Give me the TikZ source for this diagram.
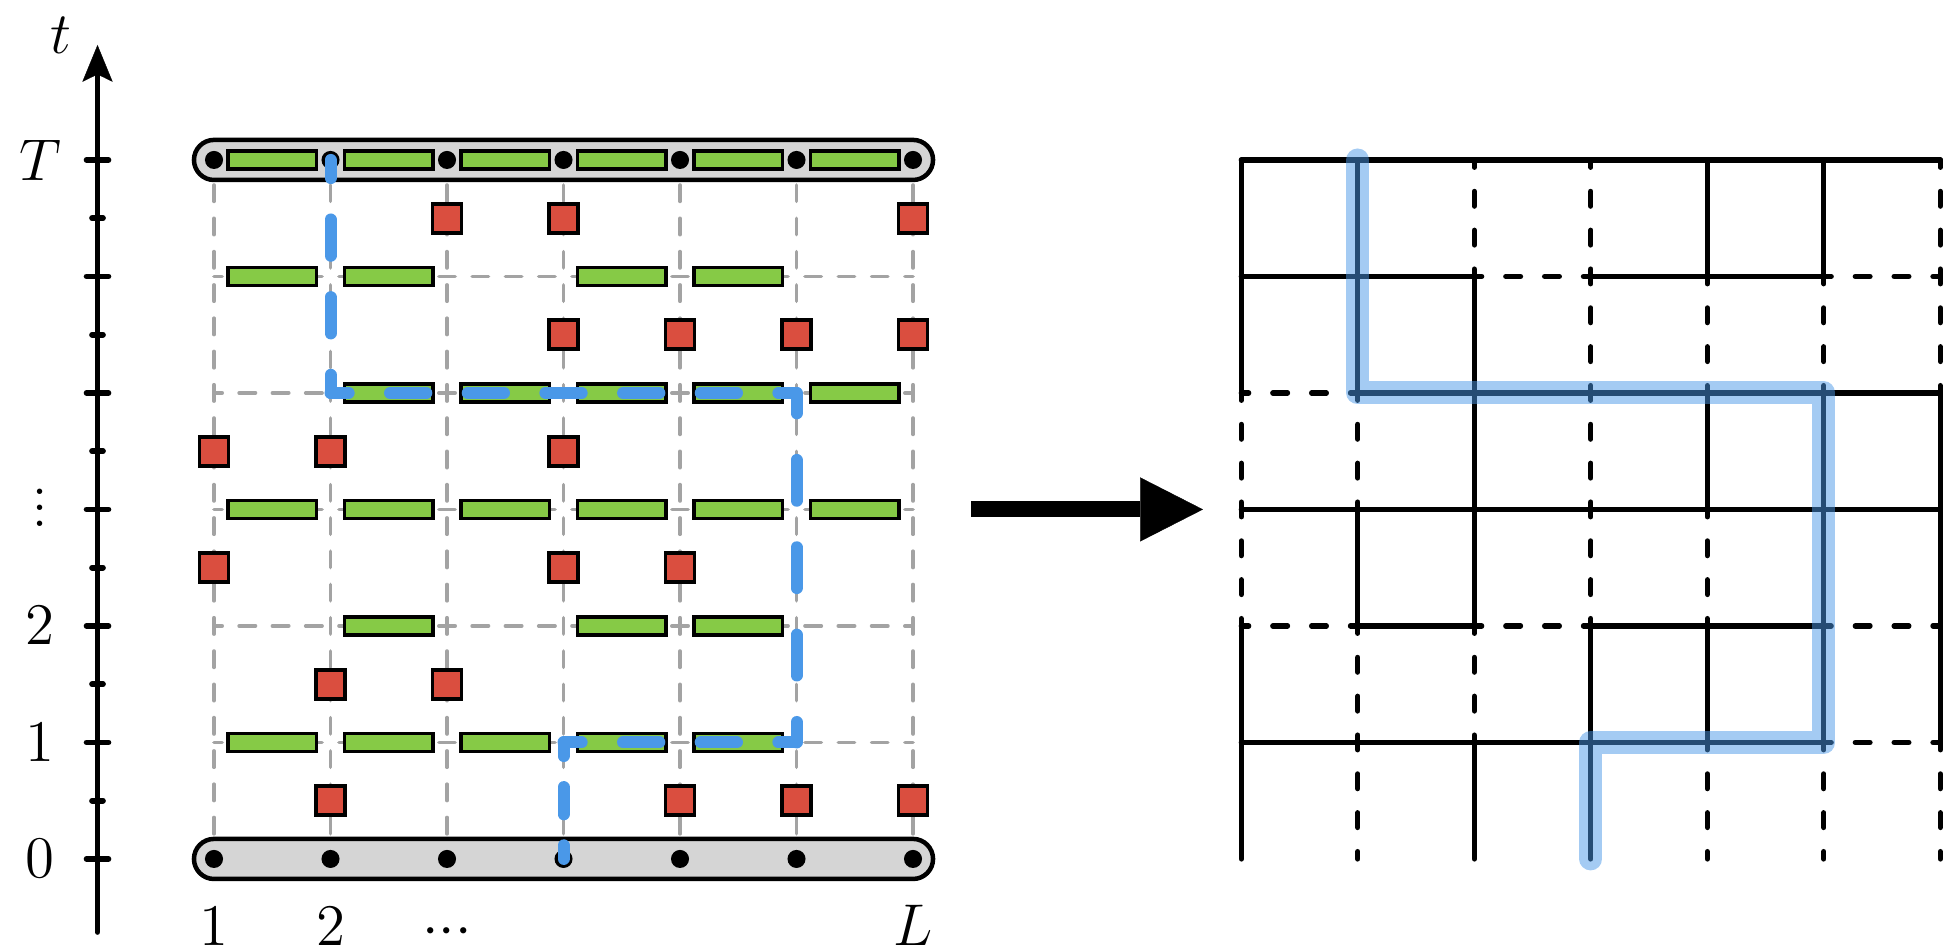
\documentclass[tikz,border=0pt]{standalone}
\usetikzlibrary{arrows.meta}
\definecolor{pillgray}{HTML}{D5D5D5}
\definecolor{gridgray}{HTML}{A3A3A3}
\definecolor{bondgreen}{HTML}{86CA46}
\definecolor{cutred}{HTML}{DA4E3F}
\definecolor{pathblue}{HTML}{4A98E8}
\begin{document}
\begin{tikzpicture}[x=1cm,y=1cm,
  every node/.style={font=\fontsize{13.6}{16}\selectfont},
  axlabel/.style={inner sep=0pt, anchor=base},
  gridline/.style={draw=gridgray, line width=0.9pt, line cap=round,
    dash pattern=on 0.14cm off 0.145714cm, dash phase=0.07cm},
  pill/.style={draw=black, fill=pillgray, line width=1.1pt, rounded corners=0.172cm},
  site/.style={circle, fill=black, draw=none, inner sep=0pt, minimum size=0.155cm},
  bond/.style={rectangle, draw=black, fill=bondgreen, line width=0.9pt, inner sep=0pt,
    minimum width=0.76cm, minimum height=0.155cm},
  cut/.style={rectangle, draw=black, fill=cutred, line width=0.95pt, inner sep=0pt,
    minimum size=0.249cm},
  walk/.style={draw=pathblue, line width=2.93pt, line cap=round},
  lat/.style={draw=black, line width=1.3pt, line cap=round},
  latdash/.style={lat, dash pattern=on 0.126cm off 0.2073cm, dash phase=0.063cm},
  hilite/.style={draw=pathblue, draw opacity=0.5, line width=5.6pt, line cap=round, line join=round},
  axisline/.style={draw=black, line width=1.4pt, line cap=round},
]
\useasboundingbox (-1.837,-0.790) rectangle (14.884,7.373);

% lattice points: left circuit (g) and right bond lattice (q)
\foreach \c in {1,...,7} \foreach \r in {0,...,6} {
  \coordinate (g-\c-\r) at (\c-1,\r);
  \coordinate (q-\c-\r) at (\c+7.818,\r);
}

% ---------- time axis ----------
\coordinate (ax-b) at (-1,-0.627);
\coordinate (ax-t) at (-1,6.987);
\draw[axisline, -{Stealth[length=9pt,width=7.4pt,inset=1.8pt,line width=0.1pt]}] (ax-b) -- (ax-t);
\foreach \r in {0,...,6} \draw[axisline] (-1.094,\r) -- (-0.906,\r);
\foreach \r in {0,...,5} \draw[axisline] (-1.047,\r+0.5) -- (-0.953,\r+0.5);
\node (lab-t) at (-1.313,7.073) {$t$};
\node (lab-T) at (-1.494,6) {$T$};
\node[axlabel] (lab-vd) at (-1.494,2.85) {$\vdots$};
\node (lab-2) at (-1.494,2) {$2$};
\node (lab-1) at (-1.494,1) {$1$};
\node (lab-0) at (-1.494,0) {$0$};
\node[axlabel] (lab-x1) at (0,-0.745) {$1$};
\node[axlabel] (lab-x2) at (1,-0.745) {$2$};
\node[axlabel] (lab-xd) at (2,-0.745) {${\cdot}{\cdot}{\cdot}$};
\node[axlabel] (lab-xL) at (6,-0.745) {$L$};

% ---------- circuit ----------
\foreach \c in {1,...,7} \draw[gridline] (g-\c-0) -- (g-\c-6);
\foreach \r in {1,...,5} \draw[gridline] (g-1-\r) -- (g-7-\r);

\draw[pill] (-0.172,-0.172) rectangle (6.172,0.172);
\draw[pill] (-0.172,5.828) rectangle (6.172,6.172);

\foreach \c in {1,...,7} {
  \node[site] (s-\c-0) at (g-\c-0) {};
  \node[site] (s-\c-6) at (g-\c-6) {};
}

% two-site gates between neighbouring columns
\foreach \r/\gs in {6/{1,2,3,4,5,6},5/{1,2,4,5},4/{2,3,4,5,6},3/{1,2,3,4,5,6},2/{2,4,5},1/{1,2,3,4,5}}
  \foreach \g in \gs \node[bond] (b-\g-\r) at (\g-0.5,\r) {};

% single-site measurements
\foreach \r/\cs in {5/{3,4,7},4/{4,5,6,7},3/{1,2,4},2/{1,4,5},1/{2,3},0/{2,5,6,7}}
  \foreach \c in \cs \node[cut] (m-\c-\r) at (\c-1,\r+0.5) {};

% connecting path through the circuit
\draw[walk, dash pattern=on 0.3117cm off 0.355cm, dash phase=0.1558cm] (g-2-6) -- (g-2-4);
\draw[walk, dash pattern=on 0.3117cm off 0.355cm, dash phase=0.1558cm] (g-2-4) -- (g-6-4);
\draw[walk, dash pattern=on 0.3506cm off 0.3994cm, dash phase=0.1753cm] (g-6-4) -- (g-6-1);
\draw[walk, dash pattern=on 0.3117cm off 0.355cm, dash phase=0.1558cm] (g-6-1) -- (g-4-1);
\draw[walk, dash pattern=on 0.2338cm off 0.2662cm, dash phase=0.1169cm] (g-4-1) -- (g-4-0);

% ---------- mapping arrow ----------
\coordinate (arr-s) at (6.498,3);
\coordinate (arr-e) at (8.489,3);
\draw[line width=3.9pt, -{Triangle[length=0.54cm,width=0.55cm,line width=0.1pt]}] (arr-s) -- (arr-e);

% ---------- bond lattice ----------
% open (dashed) bonds
\foreach \r/\gs in {5/{3,6},4/{1},2/{1,3,6},1/{6}}
  \foreach \g in \gs {
    \pgfmathtruncatemacro\h{\g+1}
    \draw[latdash] (q-\g-\r) -- (q-\h-\r);
  }
\foreach \r/\cs in {5/{3,4,7},4/{4,5,6,7},3/{1,2,4},2/{1,4,5},1/{2,3},0/{2,5,6,7}}
  \foreach \c in \cs {
    \pgfmathtruncatemacro\s{\r+1}
    \draw[latdash] (q-\c-\r) -- (q-\c-\s);
  }
% closed (solid) bonds
\foreach \r/\gs in {6/{1,2,3,4,5,6},5/{1,2,4,5},4/{2,3,4,5,6},3/{1,2,3,4,5,6},2/{2,4,5},1/{1,2,3,4,5}}
  \foreach \g in \gs {
    \pgfmathtruncatemacro\h{\g+1}
    \draw[lat] (q-\g-\r) -- (q-\h-\r);
  }
\foreach \r/\cs in {5/{1,2,5,6},4/{1,2,3},3/{3,5,6,7},2/{2,3,6,7},1/{1,4,5,6,7},0/{1,3,4}}
  \foreach \c in \cs {
    \pgfmathtruncatemacro\s{\r+1}
    \draw[lat] (q-\c-\r) -- (q-\c-\s);
  }

% highlighted path on the lattice
\draw[hilite] (q-2-6) -- (q-2-4) -- (q-6-4) -- (q-6-1) -- (q-4-1) -- (q-4-0);
\end{tikzpicture}
\end{document}
